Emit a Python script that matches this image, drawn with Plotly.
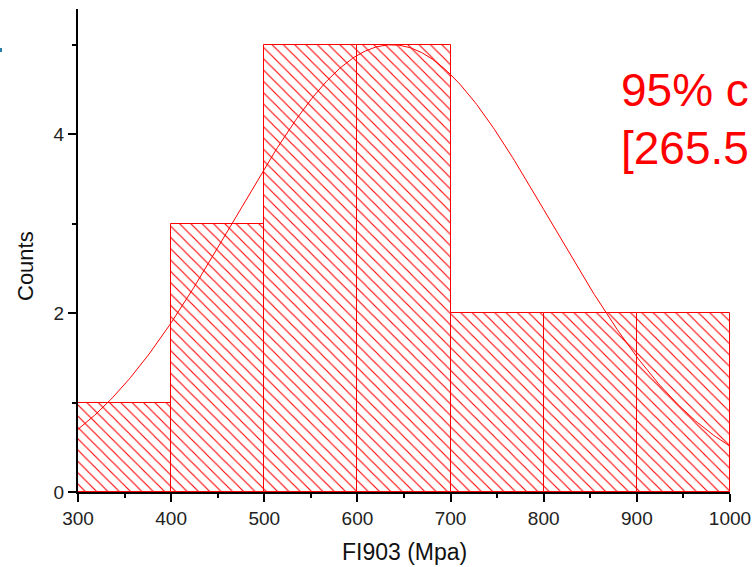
import numpy as np
import plotly.graph_objects as go

# Histogram data
bin_edges = [300, 400, 500, 600, 700, 800, 900, 1000]
counts = [1, 3, 5, 5, 2, 2, 2]

# Fitted normal curve parameters
fit_mean = 637.0
fit_sd = 170.0
fit_peak = 5.0

x_ticks = [300, 400, 500, 600, 700, 800, 900, 1000]
y_ticks = [0, 2, 4]

ci_line1 = "95% c"
ci_line2 = "[265.5"

edges = np.array(bin_edges, dtype=float)
centers = (edges[:-1] + edges[1:]) / 2
widths = np.diff(edges)

xc = np.linspace(bin_edges[0], bin_edges[-1], 400)
yc = fit_peak * np.exp(-((xc - fit_mean) ** 2) / (2 * fit_sd ** 2))

RED = "#ff0000"
FONT = "Liberation Sans, Arial, sans-serif"

# plot area in pixels
L, R, T, B = 78, 730, 9, 492
W, H = R - L, B - T


def px(p):
    return (p - L) / W


def py(q):
    return (B - q) / H


fig = go.Figure()
fig.add_trace(go.Bar(
    x=centers, y=counts, width=widths,
    marker=dict(color="white",
                line=dict(color=RED, width=1),
                pattern=dict(shape="\\", fgcolor=RED, bgcolor="white",
                             size=8, solidity=0.14, fgopacity=1)),
    showlegend=False,
))
fig.add_trace(go.Scatter(x=xc, y=yc, mode="lines",
                         line=dict(color=RED, width=1), showlegend=False))

fig.update_layout(
    width=752, height=567,
    margin=dict(l=L, r=752 - R, t=T, b=567 - B, autoexpand=False),
    paper_bgcolor="white", plot_bgcolor="white",
    bargap=0,
    font=dict(family=FONT, size=19, color="#222"),
    xaxis=dict(range=[300, 1000], tickvals=x_ticks, ticks="outside",
               ticklen=8, tickwidth=2, tickcolor="black", automargin=False,
               showline=True, linewidth=2, linecolor="black",
               showgrid=False, zeroline=False,
               minor=dict(dtick=50, tick0=300, ticks="outside", ticklen=4,
                          tickwidth=2, tickcolor="black")),
    yaxis=dict(range=[0, 5.4], tickvals=y_ticks, ticks="outside",
               ticklen=8, tickwidth=2, tickcolor="black", automargin=False,
               showline=True, linewidth=2, linecolor="black",
               showgrid=False, zeroline=False,
               minor=dict(dtick=1, tick0=0, ticks="outside", ticklen=4,
                          tickwidth=2, tickcolor="black")),
    shapes=[
        dict(type="rect", xref="paper", yref="paper",
             x0=px(0), x1=px(2), y0=py(52), y1=py(48),
             fillcolor="#2a7fa8", line=dict(width=0)),
    ],
    annotations=[
        dict(text="Counts", xref="paper", yref="paper", x=px(25), y=py(266),
             textangle=-90, showarrow=False, xanchor="center", yanchor="middle",
             font=dict(size=22, color="#111", family=FONT)),
        dict(text="FI903 (Mpa)", xref="paper", yref="paper", x=px(404), y=py(552),
             showarrow=False, xanchor="center", yanchor="middle",
             font=dict(size=23, color="#111", family=FONT)),
        dict(text=ci_line1, xref="paper", yref="y", x=px(619), y=4.49,
             showarrow=False, xanchor="left", yanchor="middle",
             font=dict(size=46, color=RED, family=FONT)),
        dict(text=ci_line2, xref="paper", yref="y", x=px(619), y=3.85,
             showarrow=False, xanchor="left", yanchor="middle",
             font=dict(size=46, color=RED, family=FONT)),
    ],
)

fig.write_html("out.html")
